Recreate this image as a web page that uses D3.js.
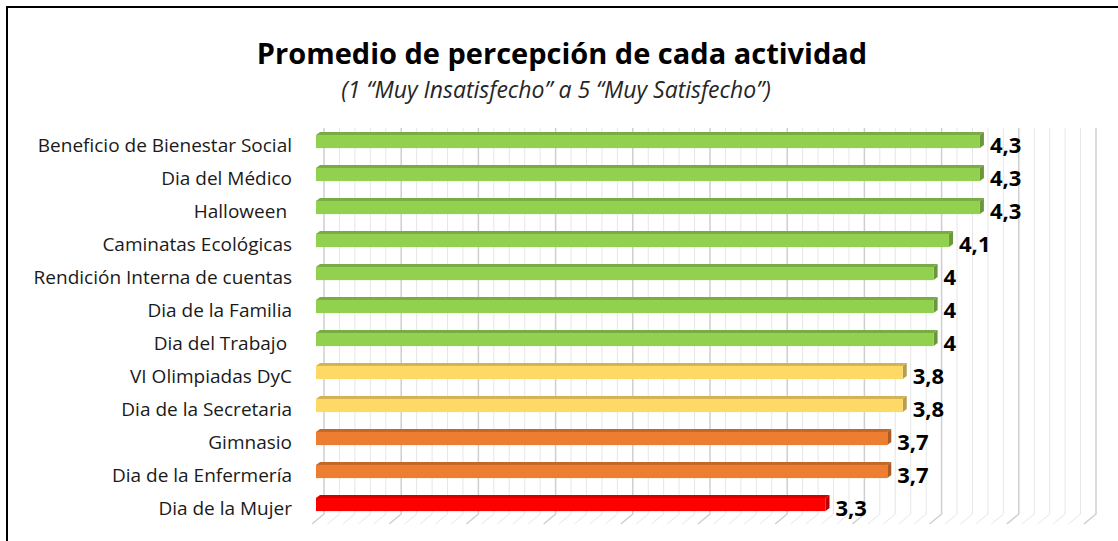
<!DOCTYPE html>
<html>
<head>
<meta charset="utf-8">
<title>Promedio de percepción de cada actividad</title>
<script src="https://cdn.jsdelivr.net/npm/d3@7"></script>
<style>
  body { margin: 0; background: #fff; }
  svg { display: block; font-family: "Open Sans", "Noto Sans", sans-serif; }
</style>
</head>
<body>
<script>
// chart data, top to bottom
var categories = [
  "Beneficio de Bienestar Social",
  "Dia del Médico",
  "Halloween ",
  "Caminatas Ecológicas",
  "Rendición Interna de cuentas",
  "Dia de la Familia",
  "Dia del Trabajo ",
  "VI Olimpiadas DyC",
  "Dia de la Secretaria",
  "Gimnasio",
  "Dia de la Enfermería",
  "Dia de la Mujer"
];
var values = [4.3, 4.3, 4.3, 4.1, 4, 4, 4, 3.8, 3.8, 3.7, 3.7, 3.3];
var titleText = "Promedio de percepción de cada actividad";
var subtitleText = "(1 \u201cMuy Insatisfecho\u201d a 5 \u201cMuy Satisfecho\u201d)";

var width = 1118, height = 541;

var svg = d3.select("body").append("svg")
    .attr("width", width)
    .attr("height", height);

// frame
svg.append("path")
    .attr("d", "M7," + height + "V7H" + width)
    .attr("fill", "none")
    .attr("stroke", "#000")
    .attr("stroke-width", 2);

svg.append("text")
    .attr("x", 562).attr("y", 64)
    .attr("text-anchor", "middle")
    .attr("font-size", 29).attr("font-weight", "bold")
    .attr("fill", "#000")
    .text(titleText);

svg.append("text")
    .attr("x", 556).attr("y", 98)
    .attr("text-anchor", "middle")
    .attr("font-size", 23).attr("font-style", "italic")
    .attr("fill", "#262626")
    .text(subtitleText);

var x = d3.scaleLinear().domain([0, 5]).range([316, 1088]);
var y = d3.scaleBand().domain(categories).range([125, 521])
    .paddingInner(0.6).paddingOuter(0.3);

var color = d3.scaleThreshold()
    .domain([3.5, 3.75, 3.9])
    .range(["#ff0000", "#ed7d31", "#ffd966", "#92d050"]);

var locale = d3.formatLocale({decimal: ",", thousands: ".", grouping: [3], currency: ["", ""]});
var fmt = locale.format("~g");

// 3D depth
var dx = 8, dy = -10, gTop = 128, gBot = 524;

var grid = svg.append("g");
var ticks = d3.range(0, 51).map(d => d / 10);
ticks.forEach(function(t, i) {
  var major = i % 5 == 0;
  var xx = x(t);
  grid.append("path")
      .attr("d", "M" + (xx + dx) + "," + gTop + "V" + (gBot + dy) + "L" + (xx - 4) + "," + gBot)
      .attr("fill", "none")
      .attr("stroke", major ? "#cfcfcf" : "#e6e6e6")
      .attr("stroke-width", major ? 1.5 : 1);
});

var bars = svg.selectAll(".bar")
    .data(values)
  .enter().append("g")
    .attr("class", "bar");

var bh = y.bandwidth(), td = 4, tv = 3;

// top face
bars.append("path")
    .attr("d", (d, i) => {
      var y0 = y(categories[i]);
      return "M" + x(0) + "," + y0 + "L" + (x(0) + td) + "," + (y0 - tv) +
        "H" + (x(d) + td) + "L" + x(d) + "," + y0 + "Z";
    })
    .attr("fill", d => d3.color(color(d)).darker(0.55));

// side face
bars.append("path")
    .attr("d", (d, i) => {
      var y0 = y(categories[i]);
      return "M" + x(d) + "," + y0 + "L" + (x(d) + td) + "," + (y0 - tv) +
        "V" + (y0 + bh - tv) + "L" + x(d) + "," + (y0 + bh) + "Z";
    })
    .attr("fill", d => d3.color(color(d)).darker(0.9));

// front face
bars.append("rect")
    .attr("x", x(0))
    .attr("y", (d, i) => y(categories[i]))
    .attr("width", d => x(d) - x(0))
    .attr("height", bh)
    .attr("fill", d => color(d));

bars.append("text")
    .attr("x", d => x(d) + td + 6)
    .attr("y", (d, i) => y(categories[i]) + bh / 2 + 11)
    .attr("font-size", 22).attr("font-weight", "bold")
    .attr("fill", "#000")
    .text(d => fmt(d));

svg.append("g").selectAll("text")
    .data(categories)
  .enter().append("text")
    .attr("x", 292)
    .attr("y", d => y(d) + bh / 2 + 10)
    .attr("text-anchor", "end")
    .attr("font-size", 19)
    .attr("fill", "#1a1a1a")
    .style("white-space", "pre")
    .text(d => d);
</script>
</body>
</html>
